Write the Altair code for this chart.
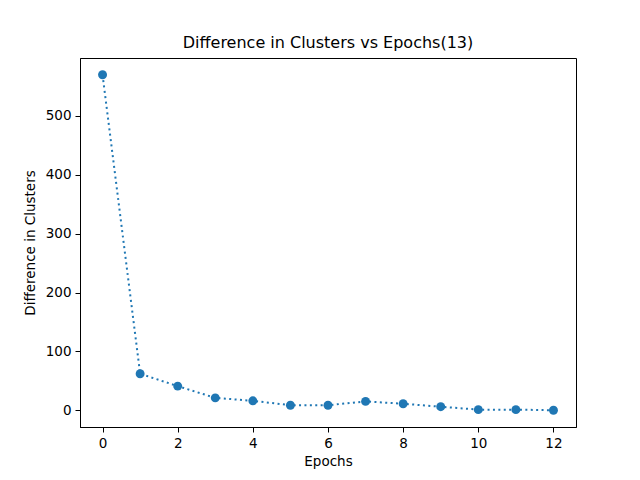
import altair as alt
import pandas as pd

epochs = list(range(13))
diffs = [570, 62, 41, 21, 16, 8.5, 8.5, 15, 11, 6, 1, 1, 0]

df = pd.DataFrame({"Epochs": epochs, "Diff": diffs})

FONT = "DejaVu Sans"
color = "#1f77b4"

x = alt.X("Epochs:Q", title="Epochs",
          scale=alt.Scale(domain=[-0.6, 12.6], nice=False, zero=False),
          axis=alt.Axis(values=[0, 2, 4, 6, 8, 10, 12], format="d", grid=False))
y = alt.Y("Diff:Q", title="Difference in Clusters",
          scale=alt.Scale(domain=[-28.5, 598.5], nice=False, zero=False),
          axis=alt.Axis(values=[0, 100, 200, 300, 400, 500], format="d", grid=False))

line = alt.Chart(df).mark_line(color=color, strokeWidth=2, strokeDash=[2, 3.4]).encode(x=x, y=y)
pts = alt.Chart(df).mark_point(filled=True, opacity=1, color=color, size=80, shape="circle").encode(x=x, y=y)

chart = (line + pts).properties(
    width=496, height=369,
    title=alt.TitleParams("Difference in Clusters vs Epochs(13)", font=FONT, fontSize=16,
                          fontWeight="normal", color="black", anchor="middle", offset=7),
    autosize=alt.AutoSizeParams(type="none"),
    padding={"left": 72, "top": 50, "right": 56, "bottom": 45},
).configure_view(stroke="black", strokeWidth=1).configure_axis(
    labelFont=FONT, titleFont=FONT, labelFontSize=13.5, titleFontSize=13.5,
    labelColor="black", titleColor="black", titleFontWeight="normal",
    domainColor="black", tickColor="black", tickSize=5, labelPadding=4,
    domainWidth=1, tickWidth=1,
).configure_axisX(titlePadding=5).configure_axisY(titlePadding=8)

chart.save("out.html", embed_options={"renderer": "svg", "actions": False})
